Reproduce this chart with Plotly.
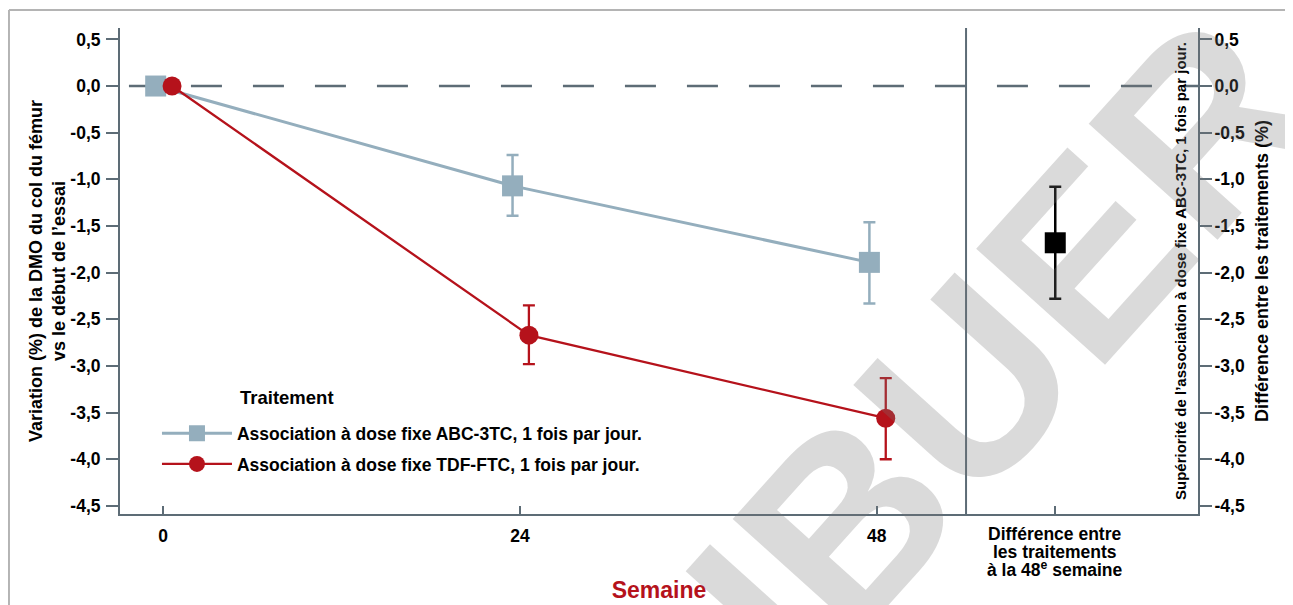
import plotly.graph_objects as go

# ---- data ----
weeks = [0, 24, 48]
abc_values = [0.0, -1.07, -1.89]
abc_err_plus = [0.0, 0.33, 0.43]
abc_err_minus = [0.0, 0.32, 0.44]
tdf_values = [0.0, -2.67, -3.56]
tdf_err_plus = [0.0, 0.32, 0.43]
tdf_err_minus = [0.0, 0.31, 0.44]
diff_x = [60]
diff_value = [-1.68]
diff_err_plus = [0.60]
diff_err_minus = [0.60]

y_tickvals = [0.5, 0.0, -0.5, -1.0, -1.5, -2.0, -2.5, -3.0, -3.5, -4.0, -4.5]
y_ticktext = ["0,5", "0,0", "-0,5", "-1,0", "-1,5", "-2,0", "-2,5", "-3,0", "-3,5", "-4,0", "-4,5"]
x_tickvals = [0, 24, 48, 60]
x_ticktext = ["0", "24", "48", " "]
diff_label_lines = ["Différence entre", "les traitements", "à la 48<sup>e</sup> semaine"]

abc_name = "Association à dose fixe ABC-3TC, 1 fois par jour."
tdf_name = "Association à dose fixe TDF-FTC, 1 fois par jour."

# ---- styles ----
FONT = "Liberation Sans, Arial, Helvetica, sans-serif"
SLATE = "#5d6c76"
GREY_BLUE = "#94aebd"
RED = "#b5121b"
abc_offset = -0.5
tdf_offset = 0.6

fig = go.Figure()

fig.add_trace(go.Scatter(
    x=[w + abc_offset for w in weeks], y=abc_values, name=abc_name,
    mode="lines+markers", legendgroup="a",
    line=dict(color=GREY_BLUE, width=3),
    marker=dict(symbol="square", size=21, color=GREY_BLUE),
    error_y=dict(type="data", array=abc_err_plus, arrayminus=abc_err_minus,
                 color=GREY_BLUE, thickness=2.5, width=6),
))
fig.add_trace(go.Scatter(
    x=[w + tdf_offset for w in weeks], y=tdf_values, name=tdf_name,
    mode="lines+markers", legendgroup="b",
    line=dict(color=RED, width=2.3),
    marker=dict(symbol="circle", size=19, color=RED),
    error_y=dict(type="data", array=tdf_err_plus, arrayminus=tdf_err_minus,
                 color=RED, thickness=2.3, width=6),
))
fig.add_trace(go.Scatter(
    x=diff_x, y=diff_value, mode="markers", showlegend=False,
    marker=dict(symbol="square", size=21, color="black"),
    error_y=dict(type="data", array=diff_err_plus, arrayminus=diff_err_minus,
                 color="black", thickness=2.5, width=6),
))
# invisible trace to activate the right axis
fig.add_trace(go.Scatter(x=[60], y=[0], yaxis="y2", mode="markers",
                         marker=dict(opacity=0), showlegend=False, hoverinfo="skip"))

yr = [-4.587, 0.622]
tickfont = dict(family=FONT, size=17.5, color="black", weight="bold")

fig.update_layout(
    width=1293, height=605,
    margin=dict(l=112, r=103, t=20, b=99, autoexpand=False),
    paper_bgcolor="white", plot_bgcolor="white",
    font=dict(family=FONT, color="black"),
    xaxis=dict(range=[-2.9, 69.6], tickvals=x_tickvals, ticktext=x_ticktext,
               showgrid=False, zeroline=False, showline=True, linecolor=SLATE, linewidth=2,
               ticks="inside", ticklen=8, tickwidth=2, tickcolor=SLATE,
               tickfont=dict(family=FONT, size=17.5, color="black", weight="bold"),
               ticklabelstandoff=5,
               title=dict(text="Semaine", standoff=37,
                          font=dict(family=FONT, size=23, color=RED, weight="bold"))),
    yaxis=dict(range=yr, tickvals=y_tickvals, ticktext=y_ticktext,
               showgrid=False, zeroline=False, showline=True, linecolor=SLATE, linewidth=2,
               ticks="outside", ticklen=12, tickwidth=2, tickcolor=SLATE,
               tickfont=tickfont, ticklabelstandoff=2,
               title=dict(text="Variation (%) de la DMO du col du fémur<br>vs le début de l’essai",
                          standoff=0,
                          font=dict(family=FONT, size=18, color="black", weight="bold"))),
    yaxis2=dict(range=yr, overlaying="y", side="right", tickvals=y_tickvals, ticktext=y_ticktext,
                showgrid=False, zeroline=False, showline=True, linecolor=SLATE, linewidth=2,
                ticks="outside", ticklen=12, tickwidth=2, tickcolor=SLATE,
                tickfont=tickfont, ticklabelstandoff=-1,
                title=dict(text="Différence entre les traitements (%)", standoff=11,
                           font=dict(family=FONT, size=18, color="black", weight="bold"))),
    legend=dict(x=0.0343, y=0.203, xanchor="left", yanchor="top",
                bgcolor="rgba(0,0,0,0)", itemwidth=70, tracegroupgap=5,
                traceorder="grouped",
                font=dict(family=FONT, size=17.5, color="black", weight="bold")),
    showlegend=True,
)

shapes = [
    # dashed zero reference line
    dict(type="line", xref="paper", x0=0.0083, x1=1, yref="y", y0=0, y1=0,
         line=dict(color=SLATE, width=2.5, dash="31px,31px"), layer="below"),
    # separator between time course and treatment difference
    dict(type="line", xref="x", x0=54, x1=54, yref="paper", y0=0, y1=1,
         line=dict(color=SLATE, width=2)),
    # page frame
    dict(type="line", xref="paper", x0=-0.103, x1=1.2, yref="paper", y0=1.037, y1=1.037,
         line=dict(color="#b4b4b4", width=2)),
    dict(type="line", xref="paper", x0=-0.103, x1=-0.103, yref="paper", y0=1.037, y1=-0.3,
         line=dict(color="#b4b4b4", width=2)),
]
fig.update_layout(shapes=shapes)

annotations = [
    dict(text="Traitement", xref="paper", yref="paper", x=0.1095, y=0.2387,
         xanchor="left", yanchor="middle", showarrow=False,
         font=dict(family=FONT, size=18.5, color="black", weight="bold")),
    dict(text="Supériorité de l’association à dose fixe ABC-3TC, 1 fois par jour.",
         xref="paper", yref="paper", x=1, xshift=-18, y=0.5, textangle=-90,
         xanchor="center", yanchor="middle", showarrow=False,
         font=dict(family=FONT, size=15, color="black", weight="bold")),
]
for i, line in enumerate(diff_label_lines):
    annotations.append(dict(text=line, xref="x", x=diff_x[0], yref="paper", y=0,
                            yshift=-20 - 17.5 * i, xanchor="center", yanchor="middle",
                            showarrow=False,
                            font=dict(family=FONT, size=17.5, color="black", weight="bold")))
# watermark
annotations.append(dict(text="DISTRIBUER", xref="paper", yref="paper", x=0.5826, y=-0.2407,
                        xanchor="center", yanchor="middle", textangle=-48, showarrow=False,
                        font=dict(family=FONT, size=252, color="rgba(120,120,120,0.27)",
                                  weight="bold")))
fig.update_layout(annotations=annotations)

fig.write_html("out.html")
